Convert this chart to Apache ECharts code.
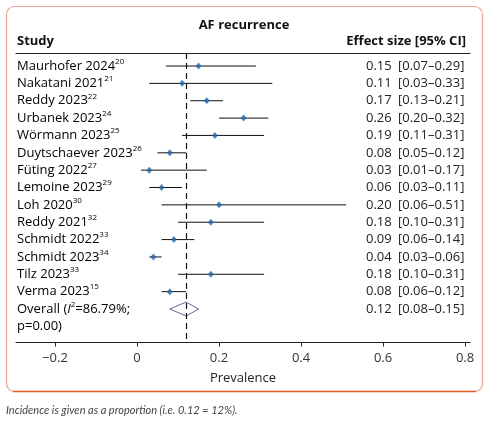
<!DOCTYPE html>
<html><head><meta charset="utf-8">
<script src="https://cdn.jsdelivr.net/npm/echarts@6/dist/echarts.min.js"></script>
<style>html,body{margin:0;padding:0;background:#fff}#c{width:489px;height:427px}</style>
</head><body><div id="c"></div>
<script>
var studies = ['Maurhofer 2024','Nakatani 2021','Reddy 2023','Urbanek 2023','Wörmann 2023','Duytschaever 2023','Füting 2022','Lemoine 2023','Loh 2020','Reddy 2021','Schmidt 2022','Schmidt 2023','Tilz 2023','Verma 2023'];
var refs = ['20','21','22','24','25','26','27','29','30','32','33','34','33','15'];
var effect = [0.15,0.11,0.17,0.26,0.19,0.08,0.03,0.06,0.20,0.18,0.09,0.04,0.18,0.08];
var ciLow  = [0.07,0.03,0.13,0.20,0.11,0.05,0.01,0.03,0.06,0.10,0.06,0.03,0.10,0.06];
var ciHigh = [0.29,0.33,0.21,0.32,0.31,0.12,0.17,0.11,0.51,0.31,0.14,0.06,0.31,0.12];
var overall = {effect:0.12, low:0.08, high:0.15, i2:'86.79%', p:'0.00'};
var xTicks = [-0.2,0,0.2,0.4,0.6,0.8];

var FONT = 'Open Sans';
function fmt(v){ return v.toFixed(2); }

var rows = [];
for (var i=0;i<studies.length;i++){
  rows.push({value:[effect[i],ciLow[i],ciHigh[i],i], name:studies[i], ref:refs[i], overall:false});
}
rows.push({value:[overall.effect,overall.low,overall.high,studies.length], name:'Overall', overall:true});

var chart = echarts.init(document.getElementById('c'), null, {renderer:'canvas'});

function renderItem(params, api){
  var idx = params.dataIndex;
  var r = rows[idx];
  var mean = api.value(0), lo = api.value(1), hi = api.value(2), row = api.value(3);
  var pLo = api.coord([lo,row]), pHi = api.coord([hi,row]), pM = api.coord([mean,row]);
  var y = pM[1];
  var children = [];
  var rich = {
    n:{fontFamily:FONT,fontSize:13,color:'#222',lineHeight:17},
    i:{fontFamily:FONT,fontSize:13,color:'#222',fontStyle:'italic',lineHeight:17},
    s:{fontFamily:FONT,fontSize:8,color:'#222',verticalAlign:'top',lineHeight:17}
  };
  if (!r.overall){
    children.push({type:'line',shape:{x1:pLo[0],y1:y,x2:pHi[0],y2:y},style:{stroke:'#111',lineWidth:1}});
    children.push({type:'text',style:{x:17,y:y,text:'{n|'+r.name+'}{s|'+r.ref+'}',rich:rich,verticalAlign:'middle',align:'left'}});
  } else {
    var h = 7;
    children.push({type:'polygon',shape:{points:[[pLo[0],y],[pM[0],y-h],[pHi[0],y],[pM[0],y+h]]},style:{fill:'#fff',stroke:'#7a5a9a',lineWidth:1}});
    children.push({type:'text',style:{x:17,y:y-8.5,text:'{n|Overall (}{i|I}{s|2}{n|='+overall.i2+';}\n{n|p='+overall.p+')}',rich:rich,verticalAlign:'top',align:'left'}});
  }
  children.push({type:'text',style:{x:366,y:y,text:fmt(mean),fontFamily:FONT,fontSize:13,fill:'#222',verticalAlign:'middle',align:'left'}});
  children.push({type:'text',style:{x:398,y:y,text:'['+fmt(lo)+'–'+fmt(hi)+']',fontFamily:FONT,fontSize:13,fill:'#222',verticalAlign:'middle',align:'left'}});
  return {type:'group',children:children};
}

var option = {
  animation:false,
  grid:{left:16,right:19,top:53,bottom:84.5},
  xAxis:[{
    type:'value',min:-0.295,max:0.812,position:'bottom',
    axisLine:{onZero:false,lineStyle:{color:'#222',width:1.2}},
    axisTick:{show:true,length:4,lineStyle:{color:'#222'},customValues:xTicks},
    axisLabel:{customValues:xTicks,fontFamily:FONT,fontSize:13,color:'#333',margin:9,
      formatter:function(v){ if (Math.abs(v)<1e-9) return '0'; return (v<0?'−':'')+Math.abs(v).toFixed(1);} },
    splitLine:{show:false},
    name:'Prevalence',nameLocation:'middle',nameGap:29,
    nameTextStyle:{fontFamily:FONT,fontSize:13,color:'#222'}
  },{
    type:'value',min:-0.295,max:0.812,position:'top',
    axisLine:{show:true,onZero:false,lineStyle:{color:'#222',width:1.2}},
    axisTick:{show:false},axisLabel:{show:false},splitLine:{show:false}
  }],
  yAxis:{type:'value',inverse:true,min:-0.75,max:15.93,show:false},
  series:[{
    type:'custom',renderItem:renderItem,data:rows.map(function(r){return r.value;}),
    z:2
  },{
    type:'scatter',symbol:'diamond',symbolSize:[6,7],
    itemStyle:{color:'#2266aa'},
    data:effect.map(function(v,i){return [v,i];}),
    z:3,
    markLine:{silent:true,symbol:'none',label:{show:false},
      lineStyle:{type:[6,4],color:'#111',width:1.2},
      data:[{xAxis:overall.effect}]}
  }],
  graphic:[
    {type:'rect',shape:{x:6.5,y:6.5,width:476,height:385,r:8},style:{fill:'none',stroke:'#f0a58e',lineWidth:1.2},silent:true},
    {type:'line',shape:{x1:13,y1:391.5,x2:476,y2:391.5},style:{stroke:'#e85a20',lineWidth:1.4},silent:true},
    {type:'text',x:244,y:25,style:{text:'AF recurrence',fontFamily:FONT,fontSize:13,fontWeight:'bold',fill:'#111',align:'center',verticalAlign:'middle'}},
    {type:'text',x:17,y:41,style:{text:'Study',fontFamily:FONT,fontSize:13,fontWeight:'bold',fill:'#111',align:'left',verticalAlign:'middle'}},
    {type:'text',x:466,y:41,style:{text:'Effect size [95% CI]',fontFamily:FONT,fontSize:13,fontWeight:'bold',fill:'#111',align:'right',verticalAlign:'middle'}},
    {type:'text',x:6,y:410,style:{text:'Incidence is given as a proportion (i.e. 0.12 = 12%).',fontFamily:'Lato',fontSize:11,fontStyle:'italic',fill:'#444',align:'left',verticalAlign:'middle'}}
  ]
};
chart.setOption(option);
</script></body></html>
